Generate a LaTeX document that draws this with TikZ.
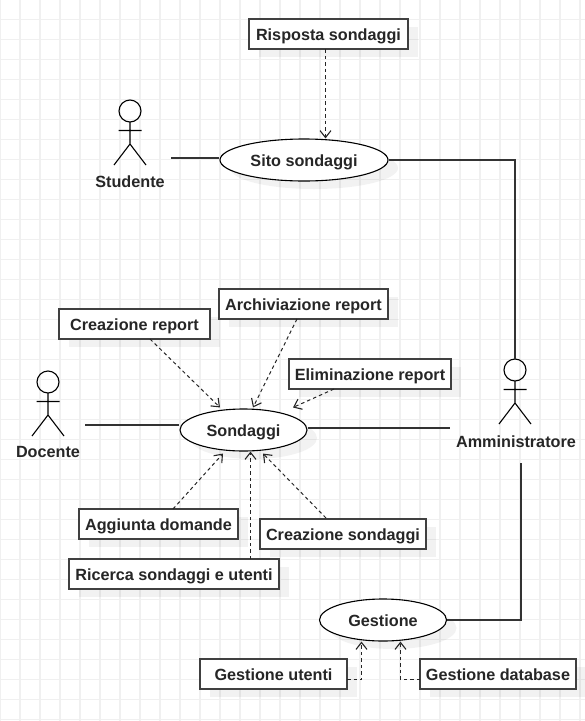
\documentclass[tikz,border=0pt]{standalone}
\usepackage{fontspec}
\setmainfont{Liberation Sans}
\usetikzlibrary{arrows.meta,shapes.geometric,shadows}

\begin{document}
\begin{tikzpicture}[
x=1pt, y=-1pt,
line width=1.1pt,
 shadowed/.style = {drop shadow={shadow xshift=10pt, shadow yshift=-8pt,
                    fill=black, opacity=0.05}},
  UseCase/.style = {ellipse, draw, fill=white, shadowed, inner sep=0pt,
                    minimum width=127pt, minimum height=42pt, text=black!85,
                    text height=14pt, text depth=2pt,
                    font=\fontsize{16.2}{18}\selectfont\bfseries},
      Box/.style = {rectangle, draw=black!75, line width=1.2pt, fill=white, shadowed,
                    inner sep=0pt, minimum height=30pt, outer sep=0pt, text=black!85,
                    text height=14pt, text depth=2pt,
                    font=\fontsize{16.2}{18}\selectfont\bfseries},
    Label/.style = {inner sep=0pt, text=black!85,
                    font=\fontsize{16.2}{18}\selectfont\bfseries},
     Link/.style = {draw=black!80, line width=1.1pt},
     Dash/.style = {draw=black!85, line width=1pt, dash pattern=on 3.5pt off 3pt,
                    -{Straight Barb[length=7pt,width=11pt,line width=1.1pt]}},
    actor/.pic = {
        \draw (0,0) circle (11pt);% head
        \draw (0,11) -- (0,33) (-11.5,19.5) -- (11.5,19.5)
              (-16,54) -- (0,33) -- (16,54);
    },
]
\useasboundingbox (0,0) rectangle (585,721);
\foreach \gx in {0,20,...,580}
    \draw[draw=black!6] (\gx,0) -- (\gx,721);
\foreach \gy in {19.5,39.5,...,719.5}
    \draw[draw=black!6] (0,\gy) -- (585,\gy);

% actors
\pic at (130,111) {actor};
\pic at (48,382) {actor};
\pic at (515,370) {actor};
\node[Label] (studente) at (130,182) {Studente};
\node[Label] (docente) at (48,452) {Docente};
\node[Label] (admin) at (516,442) {Amministratore};
\coordinate (studenteR) at (171,158);
\coordinate (docenteR) at (85,425);
\coordinate (adminL) at (450,428);
\coordinate (adminT) at (515,359);
\coordinate (adminB) at (521,463);

% use cases
\node[UseCase, minimum width=168pt] (sito) at (304,160) {Sito sondaggi};
\node[UseCase] (sondaggi) at (243.5,430) {Sondaggi};
\node[UseCase] (gestione) at (383,620) {Gestione};

% boxes
\node[Box, minimum width=159pt] (risposta) at (328.5,34) {Risposta sondaggi};
\node[Box, minimum width=151pt] (creaRep) at (134.5,324) {Creazione report};
\node[Box, minimum width=169pt] (archRep) at (303.5,304) {Archiviazione report};
\node[Box, minimum width=162pt] (elimRep) at (370,374) {Eliminazione report};
\node[Box, minimum width=159pt] (aggiunta) at (158.5,524) {Aggiunta domande};
\node[Box, minimum width=166pt] (creaSond) at (343,534) {Creazione sondaggi};
\node[Box, minimum width=210pt] (ricerca) at (174,574) {Ricerca sondaggi e utenti};
\node[Box, minimum width=147pt] (gestUt) at (273.5,674) {Gestione utenti};
\node[Box, minimum width=156pt] (gestDb) at (498,674) {Gestione database};

% plain links
\draw[Link] (studenteR) -- (studenteR -| sito.west);
\draw[Link] (sito.east) -- (adminT |- sito.east) -- (adminT);
\draw[Link] (docenteR) -- (docenteR -| sondaggi.west);
\draw[Link] ([yshift=2pt]sondaggi.east) -- (adminL);
\draw[Link] (adminB) -- (adminB |- gestione.east) -- (gestione.east);

% dashed links
\draw[Dash] ([xshift=-3pt]risposta.south) -- ([xshift=21.5pt]sito.north);
\draw[Dash] ([xshift=15.5pt]creaRep.south) -- ([xshift=-23.5pt,yshift=1pt]sondaggi.north);
\draw[Dash] ([xshift=-6.5pt]archRep.south) -- ([xshift=9.5pt,yshift=1pt]sondaggi.north);
\draw[Dash] ([xshift=-36pt]elimRep.south) -- ([xshift=49.5pt,yshift=1pt]sondaggi.north);
\draw[Dash] ([xshift=14.5pt]aggiunta.north) -- ([xshift=-20.5pt,yshift=-2pt]sondaggi.south);
\draw[Dash] ([xshift=76.5pt]ricerca.north) -- ([xshift=7pt]sondaggi.south);
\draw[Dash] ([xshift=-17pt,yshift=1pt]creaSond.north) -- ([xshift=19.5pt,yshift=-2pt]sondaggi.south);
\draw[Dash] ([yshift=-5.5pt]gestUt.east) -| ([xshift=-21.5pt]gestione.south);
\draw[Dash] ([yshift=-5.5pt]gestDb.west) -| ([xshift=17.5pt]gestione.south);
\end{tikzpicture}
\end{document}
